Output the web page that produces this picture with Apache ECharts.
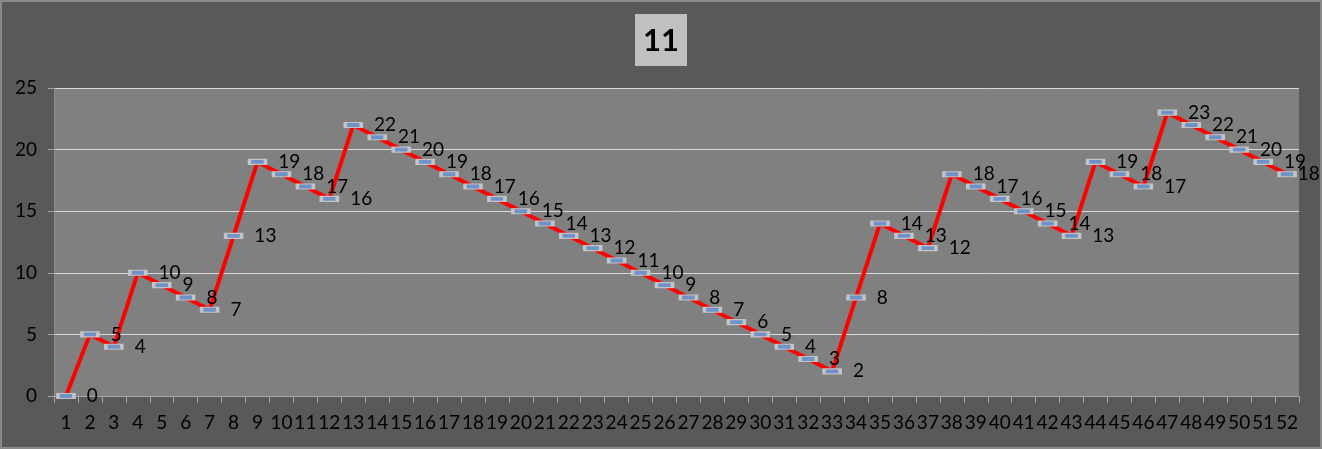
<!DOCTYPE html>
<html><head><meta charset="utf-8">
<script src="https://cdn.jsdelivr.net/npm/echarts@6/dist/echarts.min.js"></script>
<style>
html,body{margin:0;padding:0;background:#595959;}
#wrap{width:1322px;height:449px;box-sizing:border-box;border:2px solid #8a8a8a;background:#595959;}
#c{width:1318px;height:445px;}
</style></head>
<body><div id="wrap"><div id="c"></div></div>
<script>
const categories = ["1","2","3","4","5","6","7","8","9","10","11","12","13","14","15","16","17","18","19","20","21","22","23","24","25","26","27","28","29","30","31","32","33","34","35","36","37","38","39","40","41","42","43","44","45","46","47","48","49","50","51","52"];
const values = [0,5,4,10,9,8,7,13,19,18,17,16,22,21,20,19,18,17,16,15,14,13,12,11,10,9,8,7,6,5,4,3,2,8,14,13,12,18,17,16,15,14,13,19,18,17,23,22,21,20,19,18];
const yTicks = [0,5,10,15,20,25];
const titleText = "11";

const font = "Lato, 'Open Sans', sans-serif";
const seriesData = values.map((v, i) => i === values.length - 1
  ? {value: v, label: {distance: 1}}
  : v);
const chart = echarts.init(document.getElementById('c'), null, {renderer:'canvas'});
chart.setOption({
  backgroundColor: '#595959',
  animation: false,
  title: {
    text: titleText, left: 'center', top: 12,
    backgroundColor: '#c0c0c0', padding: [11, 8, 10, 8],
    textStyle: {fontSize: 31, fontWeight: 'bold', color: '#000', fontFamily: font}
  },
  grid: {left: 52, right: 21, top: 86, bottom: 51, show: true, backgroundColor: '#808080', borderWidth: 0},
  xAxis: {
    type: 'category', data: categories, boundaryGap: true,
    axisLine: {show: true, lineStyle: {color: '#a6a6a6', width: 1}},
    axisTick: {show: true, length: 7, interval: 0, lineStyle: {color: '#a6a6a6'}},
    axisLabel: {interval: 0, color: '#000', fontSize: 19, fontFamily: font, margin: 17}
  },
  yAxis: {
    type: 'value', min: yTicks[0], max: yTicks[yTicks.length-1], interval: 5,
    axisLine: {show: true, lineStyle: {color: '#8c8c8c'}},
    axisTick: {show: true, length: 6, lineStyle: {color: '#a6a6a6'}},
    splitLine: {show: true, lineStyle: {color: '#d9d9d9', width: 1}},
    axisLabel: {color: '#000', fontSize: 19, fontFamily: font, margin: 17}
  },
  series: [{
    type: 'line', data: seriesData,
    lineStyle: {color: '#ff0000', width: 4},
    symbol: 'rect', symbolSize: [16, 5],
    itemStyle: {color: '#6f93c9', borderColor: '#c4c4c4', borderWidth: 2},
    label: {show: true, position: 'right', distance: 11, color: '#000', fontSize: 19, fontFamily: font}
  }]
});
</script></body></html>
